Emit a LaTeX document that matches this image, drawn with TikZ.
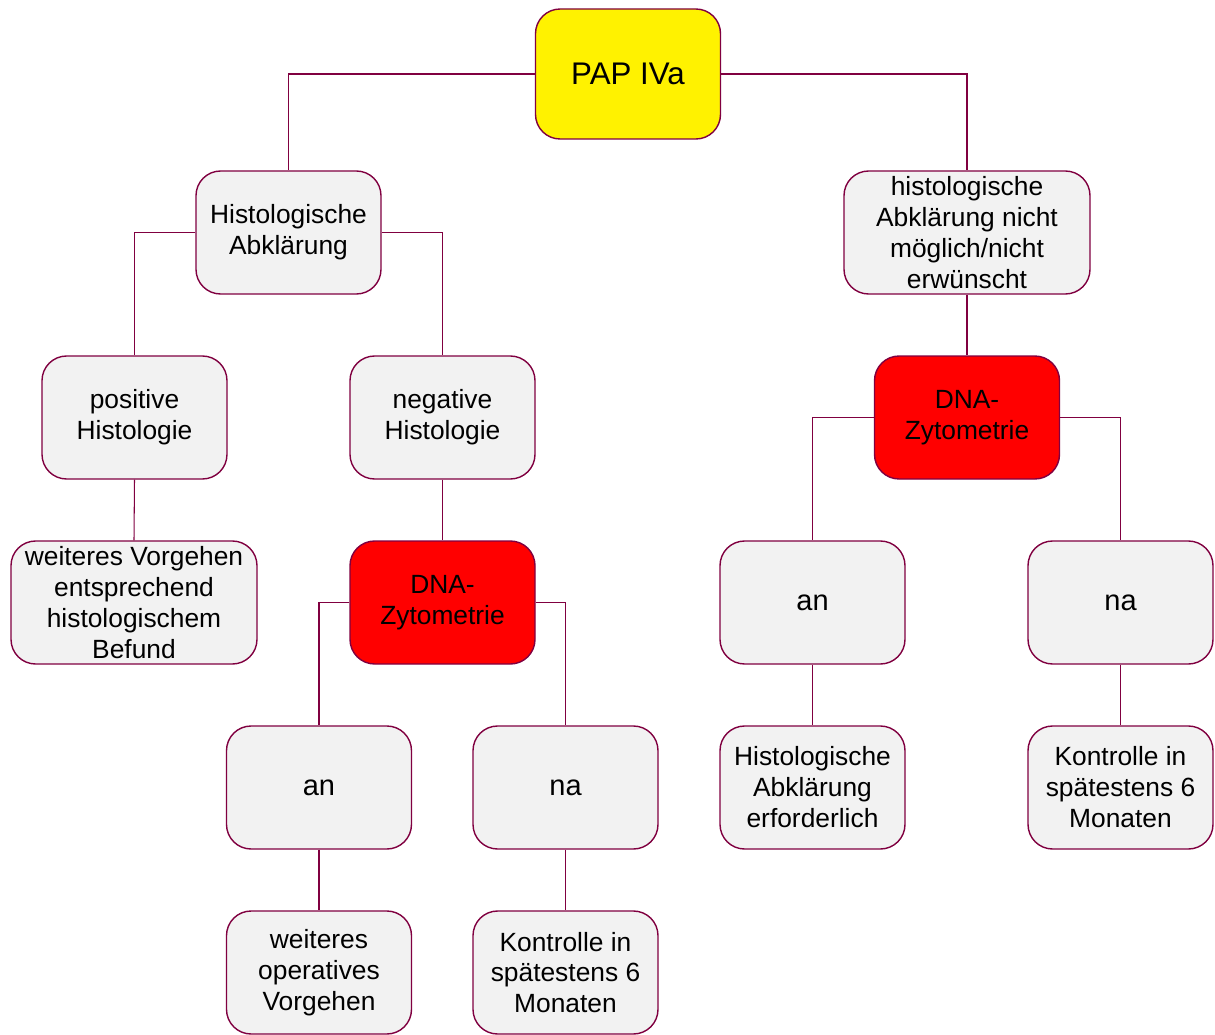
\documentclass[tikz,border=0pt]{standalone}
\usepackage{fontspec}
\setmainfont{Liberation Sans}
\usetikzlibrary{positioning}
\usetikzlibrary{calc}

\definecolor{rahmen}{RGB}{128,0,64}
\definecolor{grau}{RGB}{242,242,242}

\begin{document}
\begin{tikzpicture}[every node/.style={rectangle, rounded corners=14pt, draw=rahmen, line width=0.8pt, fill=grau, align=center, minimum width=3.7cm, minimum height=2.46cm, inner sep=1pt, font=\fontsize{15}{17.6}\selectfont},
  wide/.style={minimum width=4.92cm},
  big/.style={font=\fontsize{16.5}{19}\selectfont},
  dna/.style={fill=red},
  link/.style={draw=rahmen, line width=0.6pt}]

        \useasboundingbox (0, 0) rectangle (24.3, -20.7);

        % Top
        \node[fill=yellow, minimum height=2.6cm, font=\fontsize{17.8}{20}\selectfont] (pap) at (12.56, -1.48) {PAP IVa};

        % Second row
        \node (hist) at (5.77, -4.65) {Histologische\\Abklärung};
        \node[wide] (nohist) at (19.34, -4.65) {histologische\\Abklärung nicht\\möglich/nicht\\erwünscht};

        % Third row
        \node (pos) at (2.69, -8.35) {positive\\Histologie};
        \node (neg) at (8.85, -8.35) {negative\\Histologie};
        \node[dna] (dnaR) at (19.34, -8.35) {DNA-\\Zytometrie};

        % Fourth row
        \node[wide] (weiter) at (2.68, -12.05) {weiteres Vorgehen\\entsprechend\\histologischem\\Befund};
        \node[dna] (dnaL) at (8.85, -12.05) {DNA-\\Zytometrie};
        \node[big] (anR) at (16.25, -12.05) {an};
        \node[big] (naR) at (22.41, -12.05) {na};

        % Fifth row
        \node[big] (anL) at (6.38, -15.75) {an};
        \node[big] (naL) at (11.31, -15.75) {na};
        \node (abkl) at (16.25, -15.75) {Histologische\\Abklärung\\erforderlich};
        \node (kontR) at (22.41, -15.75) {Kontrolle in\\spätestens 6\\Monaten};

        % Bottom row
        \node (operativ) at (6.38, -19.45) {weiteres\\operatives\\Vorgehen};
        \node (kontL) at (11.31, -19.45) {Kontrolle in\\spätestens 6\\Monaten};

        % Elbow connectors from the sides
        \foreach \a/\b in {pap/hist, hist/pos, dnaL/anL, dnaR/anR} {
          \draw[link] (\a.west) -| (\b.north);
        }
        \foreach \a/\b in {pap/nohist, hist/neg, dnaL/naL, dnaR/naR} {
          \draw[link] (\a.east) -| (\b.north);
        }

        % Straight connectors downwards
        \foreach \a/\b in {pos/weiter, neg/dnaL, nohist/dnaR, anL/operativ, naL/kontL, anR/abkl, naR/kontR} {
          \draw[link] (\a.south) -- (\b.north);
        }

      \end{tikzpicture}
\end{document}
